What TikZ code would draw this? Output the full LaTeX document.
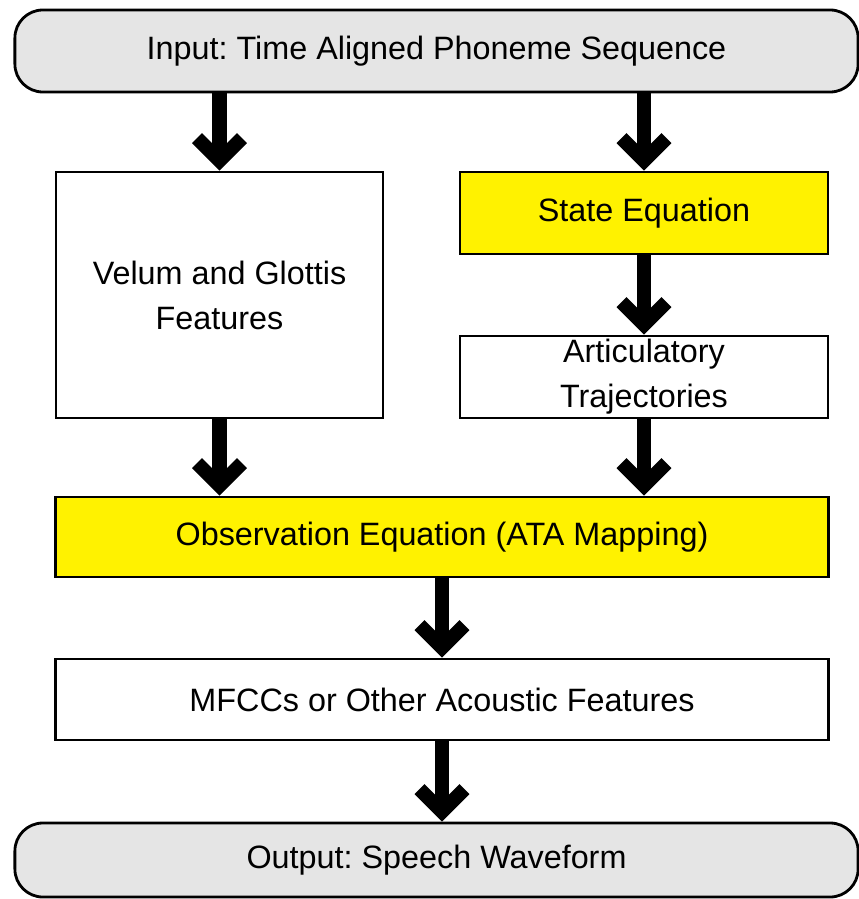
\documentclass[tikz,border=0pt]{standalone}
\usepackage{fontspec}
\setmainfont{Liberation Sans}
\usetikzlibrary{arrows.meta,positioning}

\begin{document}
\frenchspacing
\begin{tikzpicture}[x=0.025cm, y=-0.025cm, font=\fontsize{23}{32}\selectfont,
  box/.style={draw, line width=2pt, align=center, inner sep=0pt},
  term/.style={draw, line width=2pt, fill=gray!20, rounded corners=0.7cm, inner sep=0pt},
  flow/.style={line width=10pt, -{Straight Barb[sharp, length=16pt, width=32pt]}}]
\useasboundingbox (0,0) rectangle (859,899);

\node[term, minimum width=21.075cm, minimum height=2.05cm] (input) at (436.5,51) {Input: Time Aligned Phoneme Sequence};
\node[box, minimum width=8.175cm, minimum height=6.15cm] (velum) at (219.5,295) {Velum and Glottis\\Features};
\node[box, fill=yellow, minimum width=9.2cm, minimum height=2.05cm] (state) at (644,213) {State Equation};
\node[box, minimum width=9.2cm, minimum height=2.05cm] (artic) at (644,377) {Articulatory\\Trajectories};
\node[box, fill=yellow, minimum width=19.3cm, minimum height=2cm] (obs) at (442,537) {Observation Equation (ATA Mapping)};
\node[box, minimum width=19.3cm, minimum height=2.025cm] (mfcc) at (442,699.5) {MFCCs or Other Acoustic Features};
\node[term, minimum width=21.075cm, minimum height=1.85cm] (output) at (436.5,860) {Output: Speech Waveform};

\draw[flow] (input.south -| velum.north) -- (velum.north);
\draw[flow] (input.south -| state.north) -- (state.north);
\draw[flow] (state) -- (artic);
\draw[flow] (velum.south) -- (velum.south |- obs.north);
\draw[flow] (artic.south) -- (artic.south |- obs.north);
\draw[flow] (obs) -- (mfcc);
\draw[flow] (mfcc.south) -- (mfcc.south |- output.north);
\end{tikzpicture}
\end{document}
